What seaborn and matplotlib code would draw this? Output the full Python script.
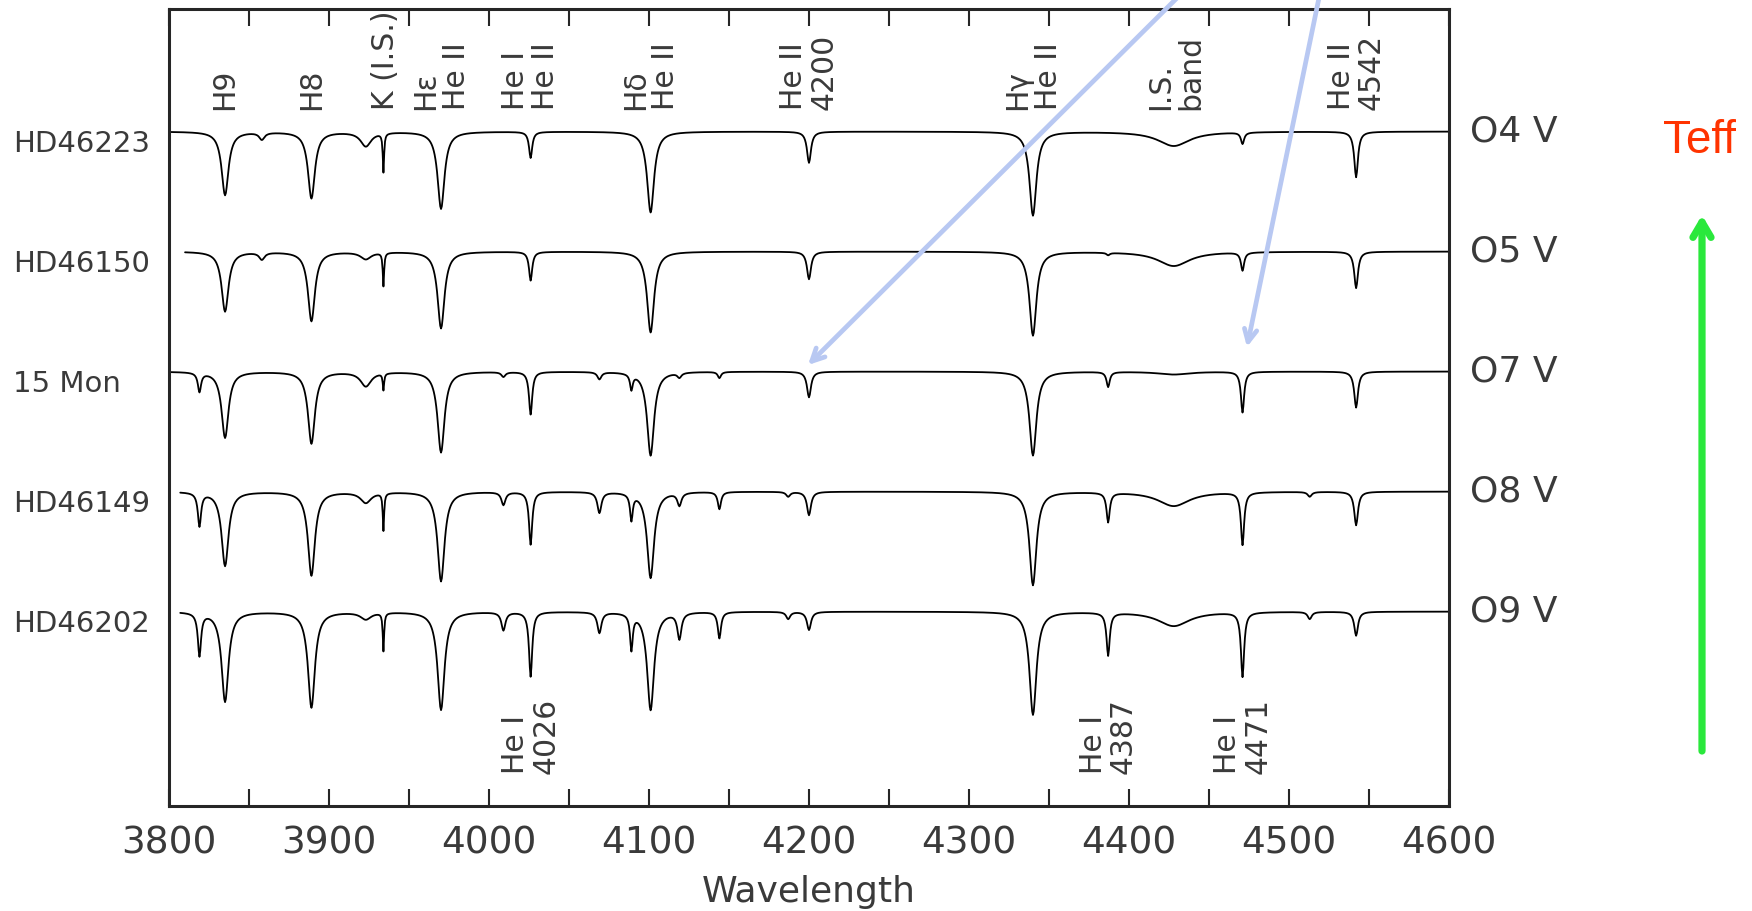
import numpy as np
import pandas as pd
import matplotlib.pyplot as plt
import seaborn as sns
from matplotlib.transforms import blended_transform_factory

# stars, top to bottom
stars = ["HD46223", "HD46150", "15 Mon", "HD46149", "HD46202"]
spectral_types = ["O4 V", "O5 V", "O7 V", "O8 V", "O9 V"]
offsets = [2.0, 1.5, 1.0, 0.5, 0.0]
start_wave = [3800, 3810, 3800, 3807, 3807]

# absorption lines (centre in Angstrom, half width in Angstrom)
line_centres = [3819, 3835, 3858, 3889, 3923, 3934, 3970, 4009, 4026, 4069,
                4089, 4101, 4119, 4144, 4187, 4200, 4340, 4387, 4428, 4471,
                4513, 4542]
line_widths = [1.2, 2.6, 2.0, 2.6, 4.0, 0.5, 2.6, 1.5, 1.2, 1.5,
               1.0, 2.6, 1.5, 1.2, 1.5, 1.5, 2.6, 1.2, 12.0, 1.2,
               1.5, 1.4]

# line depths
depth_hd46223 = [0.0, 0.265, 0.03, 0.278, 0.06, 0.163, 0.322, 0.0, 0.109, 0.0,
                 0.0, 0.337, 0.0, 0.0, 0.0, 0.13, 0.35, 0.0, 0.06, 0.048,
                 0.0, 0.19]
depth_hd46150 = [0.0, 0.25, 0.03, 0.29, 0.03, 0.14, 0.32, 0.0, 0.12, 0.0,
                 0.0, 0.337, 0.0, 0.0, 0.0, 0.115, 0.35, 0.01, 0.06, 0.076,
                 0.0, 0.152]
depth_15mon = [0.08, 0.276, 0.0, 0.30, 0.06, 0.07, 0.337, 0.02, 0.178, 0.03,
               0.065, 0.35, 0.02, 0.026, 0.0, 0.107, 0.35, 0.063, 0.012, 0.17,
               0.0, 0.15]
depth_hd46149 = [0.14, 0.31, 0.0, 0.35, 0.045, 0.157, 0.374, 0.054, 0.22, 0.087,
                 0.11, 0.36, 0.054, 0.072, 0.02, 0.098, 0.39, 0.124, 0.06, 0.22,
                 0.02, 0.14]
depth_hd46202 = [0.18, 0.376, 0.0, 0.40, 0.03, 0.16, 0.41, 0.076, 0.27, 0.087,
                 0.15, 0.41, 0.11, 0.11, 0.03, 0.076, 0.43, 0.18, 0.06, 0.27,
                 0.03, 0.10]
depths = [depth_hd46223, depth_hd46150, depth_15mon, depth_hd46149, depth_hd46202]

# line identifications
top_label_waves = [3835, 3889, 3935, 3970, 4026, 4101, 4200, 4340, 4429, 4542]
top_label_texts = ["H9", "H8", "K (I.S.)", "Hε\nHe II", "He I\nHe II", "Hδ\nHe II",
                   "He II\n4200", "Hγ\nHe II", "I.S.\nband", "He II\n4542"]
bottom_label_waves = [4026, 4387, 4471]
bottom_label_texts = ["He I\n4026", "He I\n4387", "He I\n4471"]

wave = np.arange(3800, 4600.5, 0.5)
frames = []
for star, off, w0, dep in zip(stars, offsets, start_wave, depths):
    flux = np.ones_like(wave)
    for c, w, d in zip(line_centres, line_widths, dep):
        flux *= 1 - d / (1 + ((wave - c) / w) ** 2)
    keep = wave >= w0
    frames.append(pd.DataFrame({"wavelength": wave[keep],
                                "flux": flux[keep] + off,
                                "star": star}))
df = pd.concat(frames, ignore_index=True)

sns.set_style("ticks")
plt.rcParams["font.family"] = ["DejaVu Sans"]
text_color = "#3a3a3a"

fig = plt.figure(figsize=(17.52, 9.11), dpi=100)
ax = fig.add_axes([0.0965, 0.1153, 0.7305, 0.8747])

sns.lineplot(data=df, x="wavelength", y="flux", hue="star",
             palette={s: "black" for s in stars}, legend=False,
             linewidth=1.3, estimator=None, sort=False, ax=ax)

ax.set_xlim(3800, 4600)
ax.set_ylim(0.19, 3.51)
ax.set_xticks(np.arange(3800, 4601, 100))
ax.set_xticks(np.arange(3850, 4600, 100), minor=True)
ax.set_yticks([])
ax.tick_params(axis="x", which="both", direction="in", top=True, length=12,
               width=1.5, pad=14, labelsize=27, labelcolor=text_color)
for sp in ax.spines.values():
    sp.set_linewidth(2.2)
ax.set_xlabel("Wavelength", fontsize=26, color=text_color, labelpad=10)
ax.set_ylabel("")

for x, t in zip(top_label_waves, top_label_texts):
    ax.text(x, 3.09, t, rotation=90, ha="center", va="bottom", linespacing=1.05,
            multialignment="left", fontsize=21.5, color=text_color)
for x, t in zip(bottom_label_waves, bottom_label_texts):
    ax.text(x, 0.325, t, rotation=90, ha="center", va="bottom", linespacing=1.05,
            multialignment="left", fontsize=21.5, color=text_color)

trans = blended_transform_factory(fig.transFigure, ax.transData)
for star, sptype, off in zip(stars, spectral_types, offsets):
    fig.text(0.0074, off + 1 - 0.05, star, transform=trans, ha="left",
             va="center", fontsize=21, color=text_color)
    fig.text(0.839, off + 1, sptype, transform=trans, ha="left",
             va="center", fontsize=26, color=text_color)

# overlay arrows
blue = "#b8c8f2"
ax.annotate("", xy=(808, 546), xycoords="figure pixels",
            xytext=(1182, 918), textcoords="figure pixels",
            arrowprops=dict(arrowstyle="->,head_length=0.9,head_width=0.45",
                            color=blue, lw=3.4, capstyle="round",
                            joinstyle="round", shrinkA=0, shrinkB=0),
            annotation_clip=False)
ax.annotate("", xy=(1247, 564), xycoords="figure pixels",
            xytext=(1320, 918), textcoords="figure pixels",
            arrowprops=dict(arrowstyle="->,head_length=0.9,head_width=0.45",
                            color=blue, lw=3.4, capstyle="round",
                            joinstyle="round", shrinkA=0, shrinkB=0),
            annotation_clip=False)
ax.annotate("", xy=(1702, 696), xycoords="figure pixels",
            xytext=(1702, 160), textcoords="figure pixels",
            arrowprops=dict(arrowstyle="->,head_length=1.1,head_width=0.65",
                            color="#2ae83c", lw=5.2, capstyle="round",
                            joinstyle="round", shrinkA=0, shrinkB=0),
            annotation_clip=False)
fig.text(1699 / 1752, 1 - 141 / 911, "Teff", ha="center", va="center",
         fontsize=33, color="#ff3300", family=["Liberation Sans", "DejaVu Sans"])

fig.savefig("out.png", dpi=100)
